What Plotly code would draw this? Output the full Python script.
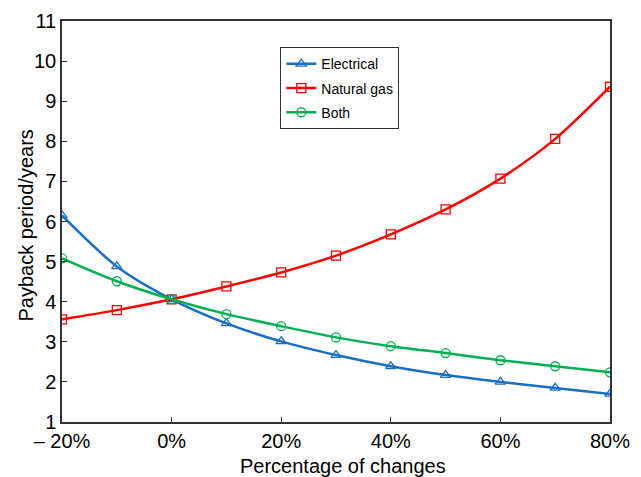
import plotly.graph_objects as go

changes = [-20, -10, 0, 10, 20, 30, 40, 50, 60, 70, 80]
electrical = [6.15, 4.88, 4.06, 3.46, 3.01, 2.67, 2.39, 2.17, 2.0, 1.85, 1.7]
natural_gas = [3.56, 3.79, 4.06, 4.38, 4.73, 5.15, 5.68, 6.3, 7.07, 8.06, 9.36]
both = [5.08, 4.51, 4.06, 3.69, 3.39, 3.11, 2.89, 2.72, 2.54, 2.39, 2.24]

x_tickvals = [-20, 0, 20, 40, 60, 80]
x_ticktext = ["\u2013 20%", "0%", "20%", "40%", "60%", "80%"]
y_tickvals = list(range(1, 12))

series = [
    ("Electrical", electrical, "#1a6fc4", "triangle-up-open"),
    ("Natural gas", natural_gas, "#ff0000", "square-open"),
    ("Both", both, "#00b050", "circle-open"),
]

fig = go.Figure()
for name, vals, color, sym in series:
    fig.add_trace(go.Scatter(
        x=changes, y=vals, name=name, mode="lines+markers", legendgroup=name,
        line=dict(color=color, width=2.5, shape="spline", smoothing=0.8),
        marker=dict(symbol=sym, size=9, color=color, line=dict(width=1.3, color=color)),
    ))

font = "Liberation Sans, Arial, Helvetica, sans-serif"
fig.update_layout(
    width=641, height=477,
    margin=dict(l=54, r=39, t=13, b=63),
    paper_bgcolor="white", plot_bgcolor="white",
    font=dict(family=font, size=20, color="black"),
    showlegend=True,
    legend=dict(
        x=0.398, y=0.935, xanchor="left", yanchor="top",
        bordercolor="#333333", borderwidth=1.2, bgcolor="white",
        font=dict(size=14, family=font),
        traceorder="grouped", tracegroupgap=3, itemwidth=30,
    ),
    xaxis=dict(
        range=[-20, 80], tickvals=x_tickvals, ticktext=x_ticktext,
        ticks="inside", ticklen=5, tickcolor="#333333",
        showline=True, linecolor="#333333", linewidth=1.5, mirror=True,
        showgrid=False, zeroline=False, automargin=False,
        tickfont=dict(size=20),
    ),
    yaxis=dict(
        range=[1, 11], tickvals=y_tickvals,
        ticks="inside", ticklen=5, tickcolor="#333333",
        showline=True, linecolor="#333333", linewidth=1.5, mirror=True,
        showgrid=False, zeroline=False, automargin=False,
        tickfont=dict(size=20),
    ),
    annotations=[
        dict(text="Percentage of changes", xref="paper", yref="paper",
             x=0.513, y=-0.11, xanchor="center", yanchor="middle",
             showarrow=False, font=dict(size=20)),
        dict(text="Payback period/years", xref="paper", yref="paper",
             x=-0.0675, y=0.49, xanchor="center", yanchor="middle",
             textangle=-90, showarrow=False, font=dict(size=20)),
    ],
)

fig.write_html("out.html")
